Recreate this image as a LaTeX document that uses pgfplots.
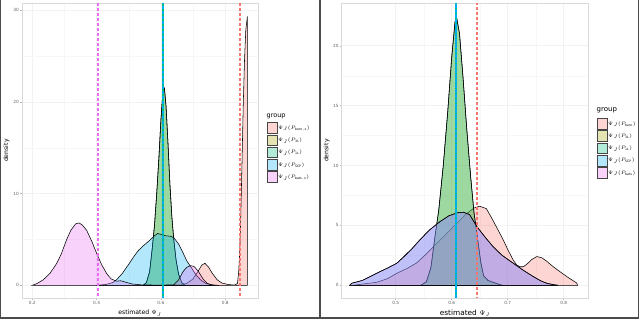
\documentclass[border=0pt]{standalone}
\usepackage{fontspec}
\setmainfont{DejaVu Sans}
\usepackage{pgfplots}
\pgfplotsset{compat=1.18}

\definecolor{gR}{HTML}{F8766D}
\definecolor{gO}{HTML}{A3A500}
\definecolor{gG}{HTML}{00BF7D}
\definecolor{gB}{HTML}{00B0F6}
\definecolor{gP}{HTML}{E76BF3}

\pgfplotsset{
  dens/.style={
    scale only axis,
    axis line style={gray!30, line width=0.5bp},
    tick style={gray!55, line width=0.4bp},
    major tick length=2bp, minor tick length=0pt,
    tick align=outside, tick pos=left,
    ticklabel style={font=\fontsize{4.3}{5}\selectfont, text=gray!75!black, inner sep=1bp},
    /pgf/number format/assume math mode=true,
    xticklabel style={/pgf/number format/fixed, /pgf/number format/precision=1, /pgf/number format/fixed zerofill},
    grid=both,
    major grid style={gray!10, line width=0.45bp},
    minor grid style={gray!6, line width=0.3bp},
    minor x tick num=1, minor y tick num=1,
    legend cell align=left,
    legend image code/.code={\draw[##1, draw=gray!55!black, line width=0.5bp] (0bp,-5bp) rectangle (10bp,5.5bp);},
  },
  dplot/.style={fill=#1, fill opacity=0.3, draw=black, line width=0.55bp, draw opacity=1},
  vl/.style={color=#1, solid, line width=2bp, dash pattern=on 3.2bp off 1.8bp, forget plot},
}

\begin{document}
\begin{tikzpicture}
\useasboundingbox (0,0) rectangle (640bp,320bp);
% panel frames
\draw[gray!60!black, line width=1.2bp] (0.8bp,320bp) -- (0.8bp,2bp) -- (319.5bp,2bp) -- (319.5bp,320bp);
\draw[gray!60!black, line width=1.2bp] (320.5bp,320bp) -- (320.5bp,2bp) -- (638.8bp,2bp) -- (638.8bp,320bp);

% ---------------- left panel ----------------
\begin{axis}[dens,
  at={(22bp,22bp)}, anchor=south west,
  width=236bp, height=294.7bp,
  xmin=0.168, xmax=0.902, ymin=-1.38, ymax=30.73,
  xtick={0.2,0.4,0.6,0.8}, ytick={0,10,20,30},
  xlabel={estimated $\Psi_J$}, ylabel={density},
  xlabel style={font=\fontsize{6.2}{7}\selectfont, at={(axis description cs:0.5,-0.052)}, anchor=center},
  ylabel style={font=\fontsize{6.2}{7}\selectfont, at={(axis description cs:-0.066,0.5)}, anchor=center},
  legend style={draw=none, fill=none, at={(axis description cs:1.037,0.597)}, anchor=north west,
    font=\fontsize{4.5}{5}\selectfont, row sep=1.3bp, inner sep=0pt, nodes={inner sep=0.6bp}},
]
\addplot[dplot=gR] coordinates {(0.60,0) (0.66,0.05) (0.68,0.2) (0.70,0.7) (0.715,1.5) (0.727,2.2) (0.737,2.4) (0.748,2.0) (0.76,1.3) (0.775,0.6) (0.79,0.25) (0.81,0.08) (0.83,0.03) (0.838,0.2) (0.842,1.5) (0.845,3.5) (0.848,7) (0.852,13) (0.856,19.5) (0.86,24.5) (0.864,27.8) (0.869,29.3) (0.869,0)} \closedcycle;
\addplot[dplot=gO] coordinates {(0.545,0) (0.555,0.3) (0.565,1.5) (0.573,4) (0.58,6.5) (0.587,10) (0.594,14) (0.600,18) (0.606,21) (0.611,21.4) (0.616,19.5) (0.622,15.5) (0.628,11) (0.634,7.5) (0.640,5) (0.647,2.8) (0.655,1.2) (0.665,0.3) (0.675,0)} \closedcycle;
\addplot[dplot=gG] coordinates {(0.545,0) (0.555,0.3) (0.565,1.5) (0.573,4) (0.58,6.5) (0.587,10) (0.594,14) (0.600,18) (0.606,21) (0.611,21.5) (0.616,19.5) (0.622,15.5) (0.628,11) (0.634,7.5) (0.640,5) (0.647,2.8) (0.655,1.2) (0.665,0.3) (0.675,0)} \closedcycle;
\addplot[dplot=gB] coordinates {(0.40,0) (0.43,0.1) (0.45,0.3) (0.462,0.6) (0.48,1.3) (0.50,2.3) (0.515,3.1) (0.53,3.8) (0.545,4.3) (0.565,4.9) (0.58,5.4) (0.59,5.65) (0.60,5.55) (0.615,5.4) (0.63,5.35) (0.64,5.2) (0.655,4.5) (0.668,3.6) (0.68,2.7) (0.695,1.9) (0.71,1.1) (0.725,0.55) (0.74,0.2) (0.76,0.05) (0.77,0)} \closedcycle;
\addplot[dplot=gP] coordinates {(0.20,0) (0.215,0.2) (0.234,0.6) (0.255,1.3) (0.276,2.4) (0.29,3.4) (0.307,5.0) (0.32,6.0) (0.335,6.7) (0.345,6.8) (0.355,6.6) (0.369,6.0) (0.385,4.8) (0.40,3.5) (0.415,2.3) (0.431,1.3) (0.445,0.7) (0.462,0.45) (0.475,0.5) (0.49,0.35) (0.51,0.15) (0.54,0.05) (0.60,0.02) (0.64,0.05) (0.655,0.6) (0.669,1.5) (0.68,1.95) (0.692,2.15) (0.703,2.05) (0.715,1.6) (0.731,0.7) (0.745,0.2) (0.76,0.03) (0.78,0)} \closedcycle;
\addplot[vl=gP] coordinates {(0.403,-5) (0.403,40)};
\addplot[vl=gR] coordinates {(0.847,-5) (0.847,40)};
\addplot[vl=gG] coordinates {(0.605,-5) (0.605,40)};
\addplot[vl=gB, dash phase=2.5bp] coordinates {(0.605,-5) (0.605,40)};
\legend{$\Psi_J(P_{\mathrm{bern.x}})$, $\Psi_J(P_{\mathrm{3L}})$, $\Psi_J(P_{\mathrm{1L}})$, $\Psi_J(P_{\mathrm{SCP}})$, $\Psi_J(P_{\mathrm{bats.x}})$}
\end{axis}
\node[anchor=west, inner sep=0pt, font=\fontsize{6.5}{7}\selectfont] at (266.5bp,203.5bp) {group};

% ---------------- right panel ----------------
\begin{axis}[dens,
  at={(341.7bp,22bp)}, anchor=south west,
  width=246.6bp, height=294.7bp,
  xmin=0.4036, xmax=0.844, ymin=-1.06, ymax=23.54,
  xtick={0.5,0.6,0.7,0.8}, ytick={0,5,10,15,20},
  xlabel={estimated $\Psi_J$}, ylabel={density},
  xlabel style={font=\fontsize{7.4}{8}\selectfont, at={(axis description cs:0.5,-0.052)}, anchor=center},
  ylabel style={font=\fontsize{6.2}{7}\selectfont, at={(axis description cs:-0.061,0.5)}, anchor=center},
  legend style={draw=none, fill=none, at={(axis description cs:1.035,0.611)}, anchor=north west,
    font=\fontsize{4.5}{5}\selectfont, row sep=1.3bp, inner sep=0pt, nodes={inner sep=0.6bp}},
]
\addplot[dplot=gR] coordinates {(0.424,0) (0.44,0.1) (0.466,0.25) (0.485,0.55) (0.502,1.0) (0.52,1.4) (0.537,1.85) (0.552,2.5) (0.567,3.2) (0.582,3.9) (0.597,4.6) (0.612,5.3) (0.627,6.0) (0.64,6.45) (0.65,6.6) (0.662,6.4) (0.674,5.4) (0.683,4.6) (0.692,3.8) (0.70,3.0) (0.71,2.1) (0.716,1.7) (0.722,1.55) (0.728,1.55) (0.734,1.75) (0.743,2.15) (0.752,2.4) (0.761,2.3) (0.770,2.0) (0.78,1.6) (0.793,1.15) (0.808,0.65) (0.823,0.2) (0.825,0)} \closedcycle;
\addplot[dplot=gO] coordinates {(0.545,0) (0.555,0.3) (0.563,1.5) (0.57,4) (0.577,6.3) (0.585,10) (0.593,14.5) (0.60,19) (0.606,22) (0.609,22.3) (0.614,21) (0.62,17.5) (0.627,13) (0.634,9) (0.64,6) (0.646,4) (0.652,1.9) (0.657,0.8) (0.665,0.4) (0.68,0.15) (0.69,0)} \closedcycle;
\addplot[dplot=gG] coordinates {(0.545,0) (0.555,0.3) (0.563,1.5) (0.57,4) (0.577,6.3) (0.585,10) (0.593,14.5) (0.60,19) (0.606,22) (0.609,22.3) (0.614,21) (0.62,17.5) (0.627,13) (0.634,9) (0.64,6) (0.646,4) (0.652,1.9) (0.657,0.8) (0.665,0.4) (0.68,0.15) (0.69,0)} \closedcycle;
\addplot[dplot=gB] coordinates {(0.418,0) (0.4214,0.17) (0.44,0.4) (0.454,0.72) (0.47,1.1) (0.486,1.45) (0.502,1.84) (0.515,2.4) (0.53,3.1) (0.543,3.78) (0.56,4.6) (0.579,5.31) (0.595,5.8) (0.61,6.05) (0.621,6.1) (0.632,5.9) (0.645,4.9) (0.66,4.0) (0.674,3.22) (0.69,2.5) (0.71,1.84) (0.728,1.25) (0.746,0.72) (0.76,0.35) (0.77,0.17) (0.782,0.05) (0.79,0)} \closedcycle;
\addplot[dplot=gP] coordinates {(0.418,0) (0.4214,0.17) (0.44,0.4) (0.454,0.72) (0.47,1.1) (0.486,1.45) (0.502,1.84) (0.515,2.4) (0.53,3.1) (0.543,3.78) (0.56,4.6) (0.579,5.31) (0.595,5.8) (0.61,6.05) (0.621,6.1) (0.632,5.9) (0.645,4.9) (0.66,4.0) (0.674,3.22) (0.69,2.5) (0.71,1.84) (0.728,1.25) (0.746,0.72) (0.76,0.35) (0.77,0.17) (0.782,0.05) (0.79,0)} \closedcycle;
\addplot[vl=gR] coordinates {(0.646,-5) (0.646,40)};
\addplot[vl=gG] coordinates {(0.608,-5) (0.608,40)};
\addplot[vl=gB, dash phase=2.5bp] coordinates {(0.608,-5) (0.608,40)};
\legend{$\Psi_J(P_{\mathrm{bern}})$, $\Psi_J(P_{\mathrm{3L}})$, $\Psi_J(P_{\mathrm{1L}})$, $\Psi_J(P_{\mathrm{SCP}})$, $\Psi_J(P_{\mathrm{bats}})$}
\end{axis}
\node[anchor=west, inner sep=0pt, font=\fontsize{7}{8}\selectfont] at (596.5bp,210bp) {group};
\end{tikzpicture}
\end{document}
